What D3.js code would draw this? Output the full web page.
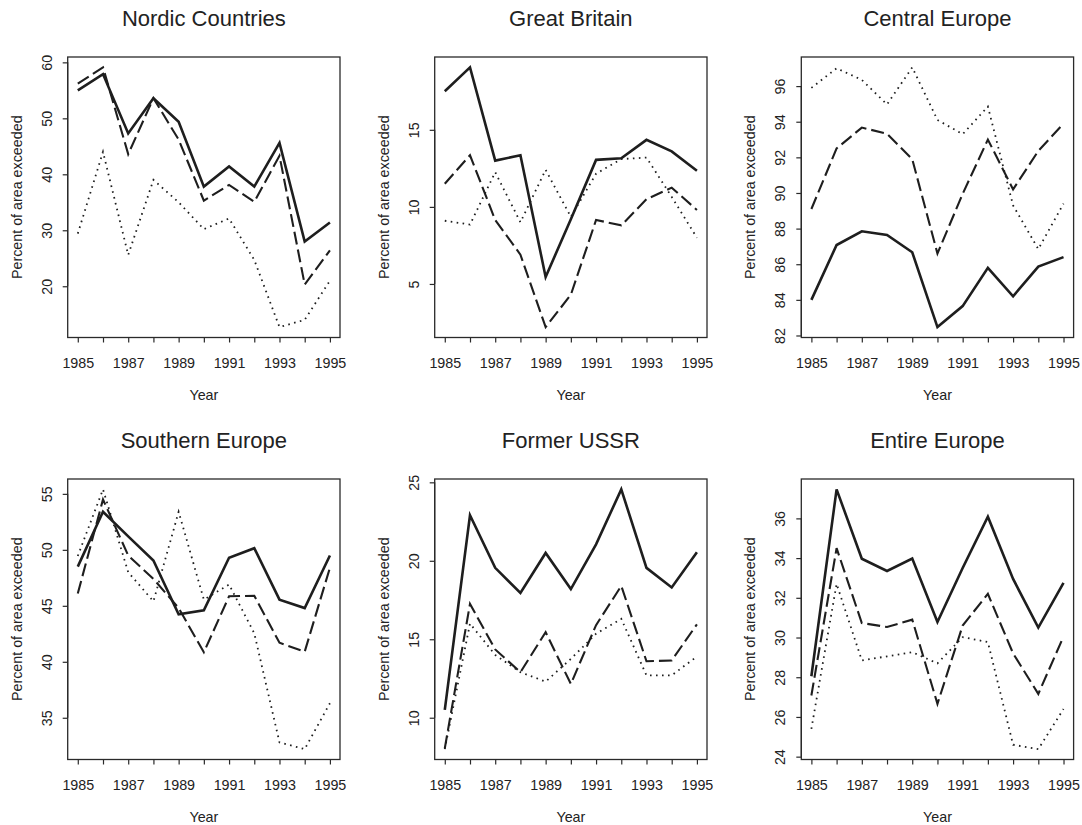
<!DOCTYPE html>
<html>
<head>
<meta charset="utf-8">
<script src="https://cdn.jsdelivr.net/npm/d3@7"></script>
<style>
  html, body { margin: 0; padding: 0; background: #fff; }
  svg { display: block; font-family: "Liberation Sans", Arial, Helvetica, sans-serif; }
</style>
</head>
<body>
<svg id="chart" width="1082" height="825"></svg>
<script>
// ---------- DATA ----------
const years = [1985, 1986, 1987, 1988, 1989, 1990, 1991, 1992, 1993, 1994, 1995];
const xTickLabels = [1985, 1987, 1989, 1991, 1993, 1995];
const yLabel = "Percent of area exceeded";
const xLabel = "Year";

const panelTitles = ["Nordic Countries", "Great Britain", "Central Europe",
                     "Southern Europe", "Former USSR", "Entire Europe"];

// Nordic Countries
const nordicSolid  = [55.0, 57.9, 47.3, 53.6, 49.4, 37.8, 41.4, 37.8, 45.6, 28.0, 31.4];
const nordicDashed = [56.2, 59.1, 43.6, 53.6, 46.2, 35.3, 38.1, 35.1, 43.3, 20.3, 26.4];
const nordicDotted = [29.4, 44.0, 25.6, 39.0, 35.0, 30.2, 32.1, 24.7, 12.7, 14.0, 21.0];
const nordicTicks  = [20, 30, 40, 50, 60];

// Great Britain
const gbSolid  = [17.5, 19.05, 13.0, 13.35, 5.45, 9.2, 13.05, 13.15, 14.35, 13.6, 12.35];
const gbDashed = [11.5, 13.35, 9.15, 6.9, 2.2, 4.3, 9.15, 8.8, 10.5, 11.25, 9.8];
const gbDotted = [9.1, 8.85, 12.25, 9.0, 12.4, 9.35, 12.15, 13.1, 13.2, 10.65, 8.0];
const gbTicks  = [5, 10, 15];

// Central Europe
const centralSolid  = [84.0, 87.08, 87.85, 87.64, 86.67, 82.47, 83.65, 85.8, 84.2, 85.87, 86.4];
const centralDashed = [89.1, 92.5, 93.67, 93.33, 91.9, 86.6, 89.95, 93.0, 90.2, 92.36, 93.9];
const centralDotted = [95.9, 97.0, 96.35, 94.97, 97.05, 94.1, 93.3, 94.85, 89.3, 86.85, 89.4];
const centralTicks  = [82, 84, 86, 88, 90, 92, 94, 96];

// Southern Europe
const southSolid  = [48.5, 53.4, 51.2, 49.05, 44.25, 44.6, 49.3, 50.15, 45.55, 44.8, 49.5];
const southDashed = [46.1, 54.5, 49.5, 47.4, 44.8, 40.85, 45.85, 45.9, 41.7, 40.9, 48.4];
const southDotted = [49.45, 55.4, 48.0, 45.4, 53.4, 45.55, 46.9, 42.55, 32.8, 32.2, 36.3];
const southTicks  = [35, 40, 45, 50, 55];

// Former USSR
const ussrSolid  = [10.5, 22.9, 19.55, 17.95, 20.5, 18.2, 21.05, 24.55, 19.55, 18.3, 20.55];
const ussrDashed = [8.05, 17.25, 14.35, 12.9, 15.45, 12.15, 15.9, 18.4, 13.6, 13.65, 15.95];
const ussrDotted = [8.0, 16.0, 14.0, 12.9, 12.3, 13.75, 15.35, 16.3, 12.7, 12.7, 13.9];
const ussrTicks  = [10, 15, 20, 25];

// Entire Europe
const europeSolid  = [28.05, 37.46, 33.97, 33.35, 33.98, 30.78, 33.5, 36.08, 32.95, 30.5, 32.75];
const europeDashed = [27.08, 34.5, 30.73, 30.53, 30.9, 26.66, 30.6, 32.2, 29.2, 27.16, 30.05];
const europeDotted = [25.4, 32.7, 28.85, 29.05, 29.26, 28.7, 30.02, 29.77, 24.6, 24.38, 26.4];
const europeTicks  = [24, 26, 28, 30, 32, 34, 36];

// ---------- BUILD ----------
const panels = [
  { title: panelTitles[0], series: [nordicSolid, nordicDashed, nordicDotted], ticks: nordicTicks },
  { title: panelTitles[1], series: [gbSolid, gbDashed, gbDotted], ticks: gbTicks },
  { title: panelTitles[2], series: [centralSolid, centralDashed, centralDotted], ticks: centralTicks },
  { title: panelTitles[3], series: [southSolid, southDashed, southDotted], ticks: southTicks },
  { title: panelTitles[4], series: [ussrSolid, ussrDashed, ussrDotted], ticks: ussrTicks },
  { title: panelTitles[5], series: [europeSolid, europeDashed, europeDotted], ticks: europeTicks }
];

const lineStyles = [
  { width: 2.6, dash: null, cap: "butt" },
  { width: 2.1, dash: "13,5", cap: "butt" },
  { width: 1.8, dash: "1.6,4.4", cap: "butt" }
];

const colLeft = [67.7, 434.7, 801.3];
const rowTop = [57, 479];
const boxW = 272.3, boxH = 280.5;
const ink = "#1e1e1e";
const labelSize = "14.3px";

const svg = d3.select("#chart");

// R-style 4% padding of the data range
function padded(ext) {
  const d = (ext[1] - ext[0]) * 0.04;
  return [ext[0] - d, ext[1] + d];
}

panels.forEach((p, i) => {
  const L = colLeft[i % 3], T = rowTop[Math.floor(i / 3)];
  const g = svg.append("g").attr("transform", `translate(${L},${T})`);

  const x = d3.scaleLinear().domain(padded(d3.extent(years))).range([0, boxW]);
  const all = p.series.flat();
  const y = d3.scaleLinear().domain(padded(d3.extent(all))).range([boxH, 0]);

  // Lines
  const line = d3.line().x((d, k) => x(years[k])).y(d => y(d));
  p.series.forEach((s, k) => {
    const st = lineStyles[k];
    g.append("path")
      .datum(s)
      .attr("d", line)
      .attr("fill", "none")
      .attr("stroke", ink)
      .attr("stroke-width", st.width)
      .attr("stroke-linejoin", "miter")
      .attr("stroke-linecap", st.cap)
      .attr("stroke-dasharray", st.dash);
  });

  // Box
  g.append("rect")
    .attr("x", 0).attr("y", 0).attr("width", boxW).attr("height", boxH)
    .attr("fill", "none").attr("stroke", "#2a2a2a").attr("stroke-width", 1.3);

  // X axis (ticks every year; labels on odd years)
  const xAxis = d3.axisBottom(x)
    .tickValues(years)
    .tickSize(5)
    .tickFormat(d => xTickLabels.includes(d) ? String(d) : "");
  const gx = g.append("g").attr("transform", `translate(0,${boxH})`).call(xAxis);
  gx.select(".domain")
    .attr("d", `M${x(years[0])},0H${x(years[years.length - 1])}`)
    .attr("stroke", "#2a2a2a").attr("stroke-width", 1.2);
  gx.selectAll(".tick line").attr("stroke", "#2a2a2a").attr("stroke-width", 1.2);
  gx.selectAll(".tick text")
    .attr("y", 20.5).attr("dy", "0.71em")
    .attr("fill", "#222").style("font-size", labelSize)
    .style("font-family", "'Liberation Sans', Arial, sans-serif");

  // Y axis (rotated labels like R)
  const yAxis = d3.axisLeft(y).tickValues(p.ticks).tickSize(5).tickFormat(d3.format("d"));
  const gy = g.append("g").call(yAxis);
  gy.select(".domain")
    .attr("d", `M0,${y(p.ticks[0])}V${y(p.ticks[p.ticks.length - 1])}`)
    .attr("stroke", "#2a2a2a").attr("stroke-width", 1.2);
  gy.selectAll(".tick line").attr("stroke", "#2a2a2a").attr("stroke-width", 1.2);
  gy.selectAll(".tick text")
    .attr("x", null).attr("dy", null)
    .attr("transform", "translate(-21,0) rotate(-90)")
    .attr("text-anchor", "middle")
    .attr("dominant-baseline", "central")
    .attr("fill", "#222").style("font-size", labelSize)
    .style("font-family", "'Liberation Sans', Arial, sans-serif");

  // Title
  g.append("text")
    .attr("x", boxW / 2).attr("y", -31)
    .attr("text-anchor", "middle")
    .attr("fill", "#222")
    .style("font-size", "22px")
    .text(p.title);

  // Axis titles
  g.append("text")
    .attr("x", boxW / 2).attr("y", boxH + 62)
    .attr("text-anchor", "middle")
    .attr("fill", "#222")
    .style("font-size", labelSize)
    .text(xLabel);

  g.append("text")
    .attr("transform", `translate(-51,${boxH / 2}) rotate(-90)`)
    .attr("text-anchor", "middle")
    .attr("dominant-baseline", "central")
    .attr("fill", "#222")
    .style("font-size", labelSize)
    .text(yLabel);
});
</script>
</body>
</html>
